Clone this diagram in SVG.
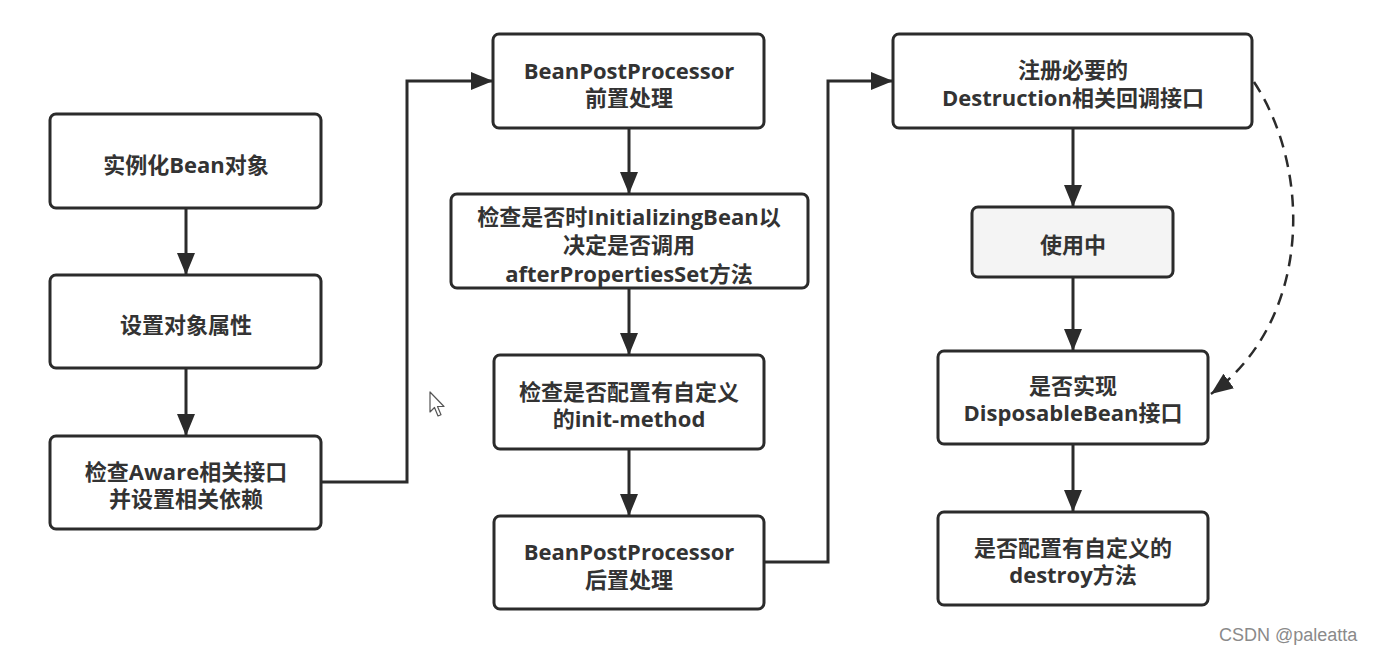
<svg xmlns="http://www.w3.org/2000/svg" width="1376" height="655" viewBox="0 0 1376 655">
<defs>
<style>
.box{fill:#ffffff;stroke:#2b2b2b;stroke-width:3}
.gray{fill:#f4f4f4}
.t{font-family:"Open Sans","Noto Sans CJK SC",sans-serif;font-weight:700;font-size:22px;fill:#333333;text-anchor:middle}
.c{fill:none;stroke:#2b2b2b;stroke-width:3}
.d{fill:none;stroke:#2b2b2b;stroke-width:2.5;stroke-dasharray:12 8}
.wm{font-family:"Liberation Sans",Arial,sans-serif;font-size:18px;fill:#8a8a8a}
</style>
<marker id="ah" markerUnits="userSpaceOnUse" markerWidth="22" markerHeight="18" refX="22" refY="9" orient="auto">
<path d="M0,0 L22,9 L0,18 Z" fill="#2b2b2b"/>
</marker>
</defs>
<rect width="1376" height="655" fill="#ffffff"/>
<g id="connectors">
<line class="c" x1="186" y1="208" x2="186" y2="275" marker-end="url(#ah)"/>
<line class="c" x1="186" y1="368" x2="186" y2="436" marker-end="url(#ah)"/>
<polyline class="c" points="321,482 407,482 407,81 493,81" marker-end="url(#ah)"/>
<line class="c" x1="629" y1="128" x2="629" y2="194" marker-end="url(#ah)"/>
<line class="c" x1="629" y1="288" x2="629" y2="355" marker-end="url(#ah)"/>
<line class="c" x1="629" y1="449" x2="629" y2="516" marker-end="url(#ah)"/>
<polyline class="c" points="764,562 828,562 828,81 893,81" marker-end="url(#ah)"/>
<line class="c" x1="1073" y1="128" x2="1073" y2="207" marker-end="url(#ah)"/>
<line class="c" x1="1073" y1="277" x2="1073" y2="351" marker-end="url(#ah)"/>
<line class="c" x1="1073" y1="444" x2="1073" y2="512" marker-end="url(#ah)"/>
<path class="d" d="M1254,82 C1312,170 1312,320 1211,394" marker-end="url(#ah)"/>
</g>
<g id="n1"><rect class="box" x="50" y="114" width="271" height="94" rx="6"/><text class="t" x="186" y="173">实例化Bean对象</text></g>
<g id="n2"><rect class="box" x="50" y="275" width="271" height="93" rx="6"/><text class="t" x="186" y="333">设置对象属性</text></g>
<g id="n3"><rect class="box" x="50" y="436" width="271" height="93" rx="6"/><text class="t" x="186" y="480">检查Aware相关接口</text><text class="t" x="186" y="507">并设置相关依赖</text></g>
<g id="n4"><rect class="box" x="493" y="34" width="271" height="94" rx="6"/><text class="t" x="629" y="79">BeanPostProcessor</text><text class="t" x="629" y="106">前置处理</text></g>
<g id="n5"><rect class="box" x="451" y="194" width="357" height="94" rx="6"/><text class="t" x="629" y="225">检查是否时InitializingBean以</text><text class="t" x="629" y="253">决定是否调用</text><text class="t" x="629" y="282">afterPropertiesSet方法</text></g>
<g id="n6"><rect class="box" x="494" y="355" width="270" height="94" rx="6"/><text class="t" x="629" y="400">检查是否配置有自定义</text><text class="t" x="629" y="427">的init-method</text></g>
<g id="n7"><rect class="box" x="494" y="516" width="270" height="93" rx="6"/><text class="t" x="629" y="560">BeanPostProcessor</text><text class="t" x="629" y="588">后置处理</text></g>
<g id="n8"><rect class="box" x="893" y="34" width="359" height="94" rx="6"/><text class="t" x="1073" y="78">注册必要的</text><text class="t" x="1073" y="106">Destruction相关回调接口</text></g>
<g id="n9"><rect class="box gray" x="972" y="207" width="201" height="70" rx="6"/><text class="t" x="1073" y="253">使用中</text></g>
<g id="n10"><rect class="box" x="938" y="351" width="270" height="93" rx="6"/><text class="t" x="1073" y="394">是否实现</text><text class="t" x="1073" y="421">DisposableBean接口</text></g>
<g id="n11"><rect class="box" x="938" y="512" width="270" height="93" rx="6"/><text class="t" x="1073" y="556">是否配置有自定义的</text><text class="t" x="1073" y="583">destroy方法</text></g>
<path d="M430,392 L430,412 L434.5,407.5 L438,416 L441,414.8 L437.5,406.5 L444,406.5 Z" fill="#ffffff" stroke="#555555" stroke-width="1.2" stroke-linejoin="round"/>
<text class="wm" x="1219" y="641">CSDN @paleatta</text>
</svg>
